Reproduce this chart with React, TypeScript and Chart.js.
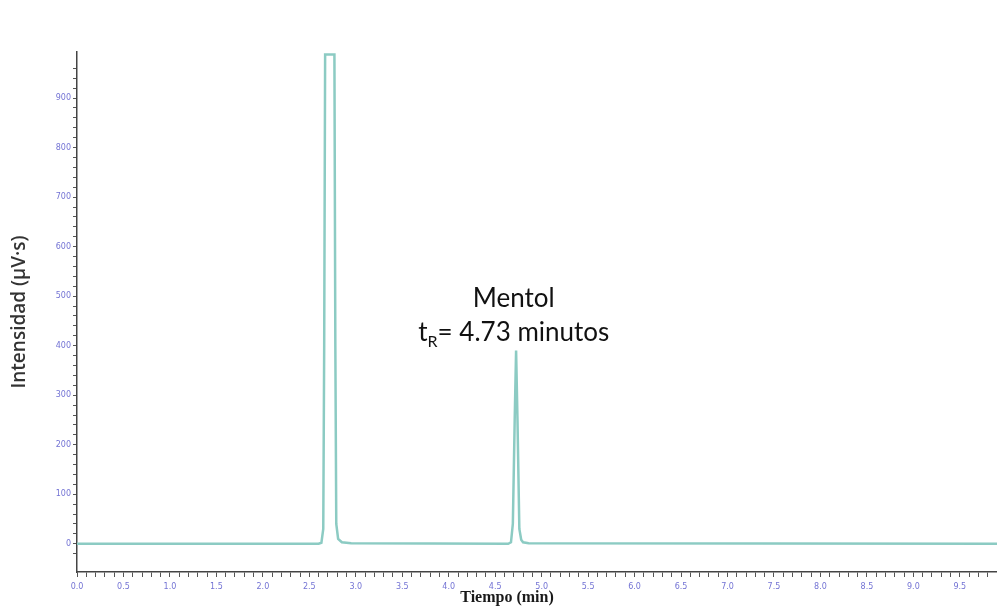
import React, { useEffect, useRef } from "react";
import { Chart, registerables } from "chart.js";
Chart.register(...registerables);

// Chromatogram: retention time (min) and intensity (µV·s)
const timeMin = [0, 2.6, 2.63, 2.65, 2.66, 2.67, 2.77, 2.78, 2.79, 2.81, 2.85, 2.95, 4.64, 4.67, 4.69, 4.71, 4.725, 4.74, 4.76, 4.78, 4.8, 4.86, 9.9];
const intensity = [0, 0, 2, 30, 400, 988, 988, 400, 40, 10, 3, 1, 0, 3, 40, 250, 390, 250, 30, 8, 3, 1, 0];
const yMajorTicks = [0, 100, 200, 300, 400, 500, 600, 700, 800, 900];
const xLabelStep = 0.5;
const annotationLines = ["Mentol", "t", "R", "= 4.73 minutos"];
const annotationTime = 4.7;
const xTitle = "Tiempo (min)";
const yTitle = "Intensidad (µV·s)";

export default function App() {
  const ref = useRef<HTMLCanvasElement>(null);
  useEffect(() => {
    const canvas = ref.current!;
    const points = timeMin.map((t, i) => ({ x: t, y: intensity[i] }));
    const annot = {
      id: "annot",
      afterDatasetsDraw(chart: any) {
        const ctx = chart.ctx;
        const xs = chart.scales.x;
        const cx = xs.getPixelForValue(annotationTime);
        ctx.save();
        ctx.fillStyle = "#111";
        ctx.textBaseline = "alphabetic";
        const f1 = "26px Lato, sans-serif";
        const f2 = "16px Lato, sans-serif";
        ctx.font = f1;
        ctx.textAlign = "center";
        ctx.fillText(annotationLines[0], cx, 307);
        ctx.font = f1;
        const w1 = ctx.measureText(annotationLines[1]).width;
        const w3 = ctx.measureText(annotationLines[3]).width;
        ctx.font = f2;
        const w2 = ctx.measureText(annotationLines[2]).width;
        const total = w1 + w2 + w3;
        let x = cx - total / 2;
        ctx.textAlign = "left";
        ctx.font = f1;
        ctx.fillText(annotationLines[1], x, 341);
        x += w1;
        ctx.font = f2;
        ctx.fillText(annotationLines[2], x, 347);
        x += w2;
        ctx.font = f1;
        ctx.fillText(annotationLines[3], x, 341);
        // axis titles
        ctx.fillStyle = "#1a1a1a";
        ctx.textAlign = "center";
        ctx.textBaseline = "middle";
        ctx.font = "bold 16px 'Liberation Serif', serif";
        ctx.fillText(xTitle, 507, 598);
        ctx.translate(20, 312);
        ctx.rotate(-Math.PI / 2);
        ctx.font = "600 19px 'Open Sans', sans-serif";
        ctx.fillStyle = "#333";
        ctx.fillText(yTitle, 0, 0);
        ctx.restore();
      },
    };
    const chart = new Chart(canvas, {
      type: "line",
      data: {
        datasets: [
          {
            data: points,
            borderColor: "#8ccbc3",
            borderWidth: 2.5,
            pointRadius: 0,
            tension: 0,
            fill: false,
          },
        ],
      },
      options: {
        animation: false,
        responsive: false,
        maintainAspectRatio: false,
        layout: { padding: { top: 52, right: 0, left: 0, bottom: 0 } },
        plugins: { legend: { display: false }, tooltip: { enabled: false } },
        scales: {
          x: {
            type: "linear",
            min: 0,
            max: 9.9,
            border: { display: true, color: "#444", width: 1.5 },
            grid: { drawOnChartArea: false, tickLength: 5, color: "#555" },
            ticks: {
              stepSize: 0.1,
              autoSkip: false,
              maxRotation: 0,
              maxTicksLimit: 1000,
              color: "#7373d4",
              font: { size: 8, family: "'DejaVu Sans', sans-serif" },
              padding: 5,
              callback: (v: any) => {
                const n = Math.round(Number(v) * 10);
                return n % Math.round(xLabelStep * 10) === 0 ? (n / 10).toFixed(1) : "";
              },
            },
            afterBuildTicks: (s: any) => {
              s.ticks = s.ticks.filter((t: any) => Math.abs(t.value * 10 - Math.round(t.value * 10)) < 1e-6);
            },
            title: { display: false },
            afterFit: (s: any) => {
              s.height = 36;
              s.paddingLeft = 0;
              s.paddingRight = 0;
            },
          },
          y: {
            type: "linear",
            min: -57,
            max: 993,
            border: { display: true, color: "#444", width: 1.5 },
            grid: { drawOnChartArea: false, tickLength: 4, color: "#555" },
            ticks: {
              stepSize: 20,
              autoSkip: false,
              maxTicksLimit: 1000,
              color: "#7373d4",
              font: { size: 8, family: "'DejaVu Sans', sans-serif" },
              padding: 2,
              callback: (v: any) => (yMajorTicks.includes(Number(v)) ? String(v) : ""),
            },
            afterBuildTicks: (s: any) => {
              s.ticks = s.ticks.filter((t: any) => Math.abs(t.value / 20 - Math.round(t.value / 20)) < 1e-6);
            },
            title: { display: false },
            afterFit: (s: any) => {
              s.width = 77;
              s.paddingTop = 0;
              s.paddingBottom = 0;
            },
          },
        },
      },
      plugins: [annot],
    });
    return () => chart.destroy();
  }, []);
  return (
    <div style={{ position: "fixed", left: 0, top: 0, width: 997, height: 608, background: "#fff" }}>
      <canvas ref={ref} width={997} height={608} style={{ width: 997, height: 608 }} />
    </div>
  );
}
